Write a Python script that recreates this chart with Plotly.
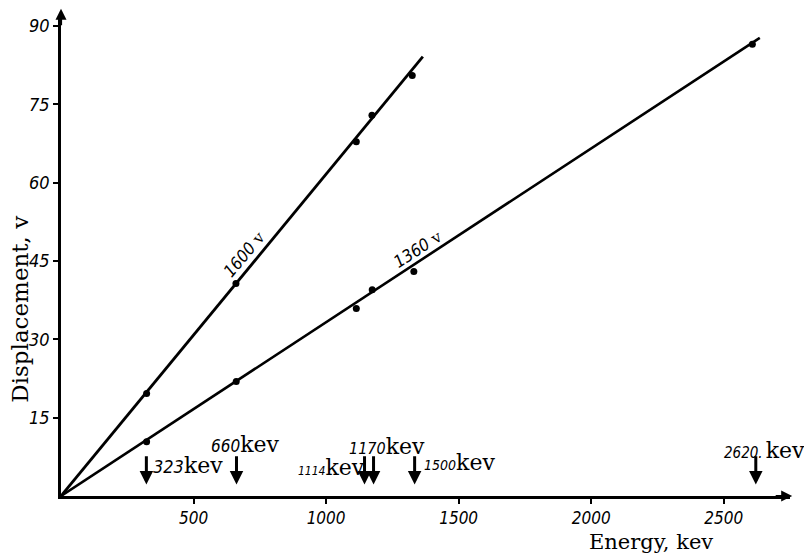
import plotly.graph_objects as go

# Data
e1600 = [323, 660, 1114, 1173, 1325]
d1600 = [19.6, 40.7, 67.8, 72.9, 80.5]
end1600 = (1365, 84.1)

e1360 = [323, 661, 1114, 1174, 1331, 2608]
d1360 = [10.4, 21.9, 35.9, 39.5, 43.0, 86.5]
end1360 = (2636, 87.7)

arrow_pos = [322, 662, 1145, 1179, 1334, 2621]

xticks = [500, 1000, 1500, 2000, 2500]
yticks = [15, 30, 45, 60, 75, 90]

NUMF = "DejaVu Sans Condensed, DejaVu Sans"
SERIF = "DejaVu Serif"

fig = go.Figure()
fig.add_trace(go.Scatter(x=[0, end1600[0]], y=[0, end1600[1]], mode="lines",
                         line=dict(color="black", width=2.8), hoverinfo="skip", showlegend=False))
fig.add_trace(go.Scatter(x=[0, end1360[0]], y=[0, end1360[1]], mode="lines",
                         line=dict(color="black", width=2.6), hoverinfo="skip", showlegend=False))
fig.add_trace(go.Scatter(x=e1600 + e1360, y=d1600 + d1360, mode="markers",
                         marker=dict(color="black", size=7), showlegend=False))

ann = []
# peak arrows
for xp in arrow_pos:
    ann.append(dict(x=xp, y=2.2, ax=xp, ay=7.9, xref="x", yref="y", axref="x", ayref="y",
                    showarrow=True, arrowhead=2, arrowsize=0.9, arrowwidth=3, arrowcolor="black", text=""))

def lab(num, num_size=16, kev_size=22, sep=""):
    return (f"<span style='font-family:{NUMF};font-style:italic;font-size:{num_size}px'>{num}</span>{sep}"
            f"<span style='font-family:{SERIF};font-size:{kev_size}px'>kev</span>")

labels = [
    dict(x=341, y=5.8, text=lab("323", 18)),
    dict(x=557, y=9.8, text=lab("660", 17)),
    dict(x=885, y=5.4, text=lab("1114", 12)),
    dict(x=1077, y=9.4, text=lab("1170", 16)),
    dict(x=1360, y=6.4, text=lab("1500", 14)),
    dict(x=2493, y=8.8, text=lab("2620.", 15, sep=" ")),
]
for a in labels:
    a.update(xref="x", yref="y", showarrow=False, xanchor="left", yanchor="middle")
ann += labels

# line labels
ann.append(dict(x=690, y=46.4, xref="x", yref="y", showarrow=False, textangle=-50,
                text=f"<span style='font-family:{NUMF};font-style:italic;font-size:17px'>1600</span>"
                     f"<span style='font-family:{SERIF};font-size:16px'> v</span>"))
ann.append(dict(x=1345, y=47.3, xref="x", yref="y", showarrow=False, textangle=-33,
                text=f"<span style='font-family:{NUMF};font-style:italic;font-size:17px'>1360</span>"
                     f"<span style='font-family:{SERIF};font-size:16px'> v</span>"))

# axis titles
ann.append(dict(xref="paper", yref="paper", x=(651 - 61) / 729, y=-46 / 481, showarrow=False,
                xanchor="center", yanchor="middle", text="Energy, kev",
                font=dict(family=SERIF, size=21, color="black")))
ann.append(dict(xref="paper", yref="paper", x=-41 / 729, y=(496 - 309) / 481, showarrow=False,
                xanchor="center", yanchor="middle", textangle=-90, text="Displacement, v",
                font=dict(family=SERIF, size=23, color="black")))

# axis arrows
ann.append(dict(xref="x domain", yref="y domain", x=1.003, y=0.0, ax=-18, ay=0,
                showarrow=True, arrowhead=2, arrowsize=1, arrowwidth=2.2, arrowcolor="black", text=""))
ann.append(dict(xref="x domain", yref="y domain", x=0.0, y=1.017, ax=0, ay=18,
                showarrow=True, arrowhead=2, arrowsize=1, arrowwidth=2.2, arrowcolor="black", text=""))

# The page adds an 8px body margin, so the figure is sized/margined to put the axes where the reference has them.
fig.update_layout(
    width=804, height=551,
    margin=dict(l=53, r=22, t=7, b=63),
    plot_bgcolor="white", paper_bgcolor="white",
    font=dict(color="black"),
    annotations=ann,
    xaxis=dict(range=[0, 2750], tickvals=xticks, ticktext=[str(v) for v in xticks],
               showgrid=False, zeroline=False, showline=True, linecolor="black", linewidth=2.5,
               ticks="outside", ticklen=5, tickwidth=1.5, tickcolor="black",
               tickfont=dict(family=NUMF, size=17, color="black", style="italic")),
    yaxis=dict(range=[0, 91.7], tickvals=yticks, ticktext=[str(v) for v in yticks],
               showgrid=False, zeroline=False, showline=True, linecolor="black", linewidth=2.5,
               ticks="outside", ticklen=5, tickwidth=1.5, tickcolor="black",
               tickfont=dict(family=NUMF, size=18, color="black", style="italic")),
)

fig.write_html("out.html")
